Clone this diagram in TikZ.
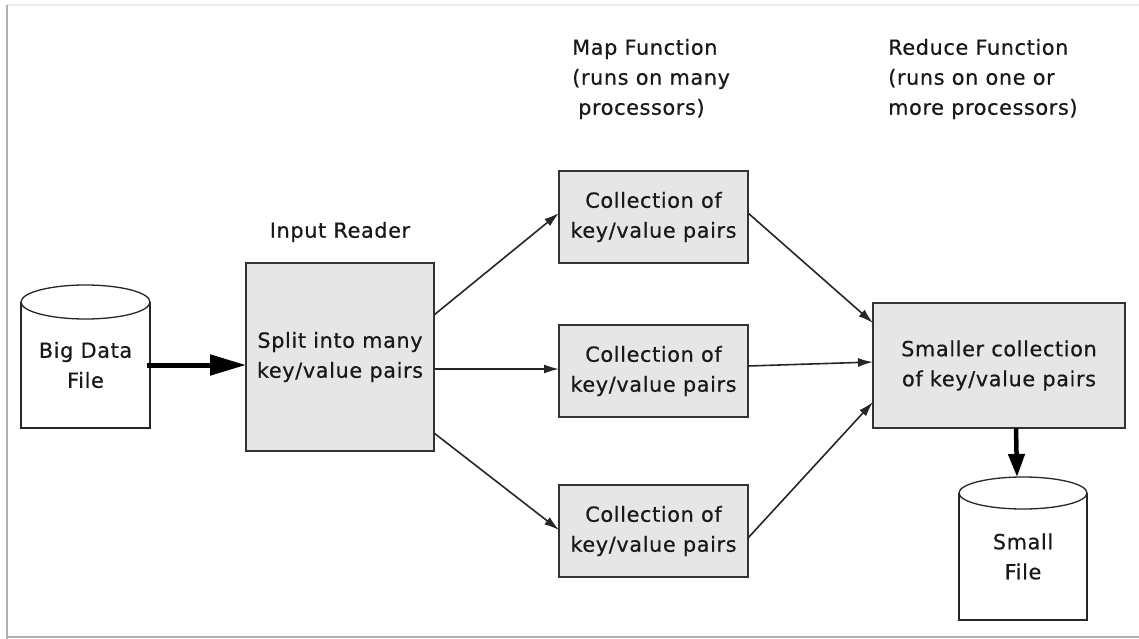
\documentclass[tikz,border=0pt]{standalone}
\usepackage{fontspec}
\setmainfont{DejaVu Sans}[LetterSpace=3,FakeBold=0.6]
\usetikzlibrary{arrows.meta}
\definecolor{boxfill}{HTML}{E6E6E6}
\definecolor{boxline}{HTML}{333333}
\begin{document}
\begin{tikzpicture}[x=1pt,y=-1pt,
  every node/.style={font=\fontsize{20.8}{30}\selectfont, text=black!90},
  box/.style={draw=boxline, fill=boxfill, line width=1.6pt, inner sep=0pt, outer sep=0pt, align=center},
  conn/.style={draw=black!85, line width=1.6pt, -{Latex[length=15pt,width=9pt]}},
  bigarrow/.style={draw=black, line width=5pt, -{Triangle[length=36pt,width=20pt]}},
  downarrow/.style={draw=black, line width=4.5pt, -{Triangle[length=23pt,width=16pt]}},
  cyl/.style={draw=black!85, line width=1.3pt},
  cylnode/.style={inner sep=0pt, outer sep=0pt, align=center},
  lbl/.style={align=left, inner sep=0pt}]
\useasboundingbox (0,0) rectangle (1139,639);
% frame
\draw[gray!15, line width=1.5pt] (7,5) -- (1139,5);
\draw[gray!60, line width=1.5pt] (7,5) -- (7,639);
\draw[gray!60, line width=1.5pt] (7,637) -- (1139,637);
% labels
\node[lbl, anchor=west] (ml) at (572,79) {Map Function\\(runs on many\\\hspace*{6pt}processors)};
\node[lbl, anchor=west] (rl) at (888,79) {Reduce Function\\(runs on one or\\more processors)};
\node (il) at (340,232) {Input Reader};
% big data file
\node[cylnode, minimum width=129pt, minimum height=126pt] (bd) at (85.5,365) {Big Data\\File};
\draw[cyl] (bd.north west) -- (bd.south west) -- (bd.south east) -- (bd.north east);
\draw[cyl, fill=white] (bd.north) ellipse [x radius=64.5pt, y radius=17pt];
% boxes
\node[box, minimum width=188pt, minimum height=188pt] (ir) at (340,357) {Split into many\\key/value pairs};
\node[box, minimum width=189pt, minimum height=92pt] (m1) at (653.5,217) {Collection of\\key/value pairs};
\node[box, minimum width=189pt, minimum height=92pt] (m2) at (653.5,371) {Collection of\\key/value pairs};
\node[box, minimum width=189pt, minimum height=92pt] (m3) at (653.5,531) {Collection of\\key/value pairs};
\node[box, minimum width=252pt, minimum height=125pt] (rd) at (999,365.5) {Smaller collection\\of key/value pairs};
% small file
\node[cylnode, minimum width=128pt, minimum height=127pt] (sf) at (1023,556.5) {Small\\File};
\draw[cyl] (sf.north west) -- (sf.south west) -- (sf.south east) -- (sf.north east);
\draw[cyl, fill=white] (sf.north) ellipse [x radius=64pt, y radius=16pt];
% connectors
\draw[bigarrow] ([xshift=-3pt]bd.east) -- ([yshift=-8pt]ir.west);
\draw[conn] ([yshift=42pt]ir.east) -- ([yshift=4pt]m1.west);
\draw[conn] ([yshift=-12pt]ir.east) -- ([yshift=2pt]m2.west);
\draw[conn] ([yshift=-76pt]ir.east) -- ([yshift=1pt]m3.west);
\draw[conn] ([yshift=4pt]m1.east) -- ([yshift=42.5pt]rd.west);
\draw[conn] ([yshift=5pt]m2.east) -- ([yshift=3.5pt]rd.west);
\draw[conn] ([yshift=-7pt]m3.east) -- ([yshift=-36.5pt]rd.west);
\draw[downarrow] ([xshift=17pt]rd.south) -- ([xshift=-6pt,yshift=16pt]sf.north);
\end{tikzpicture}
\end{document}
